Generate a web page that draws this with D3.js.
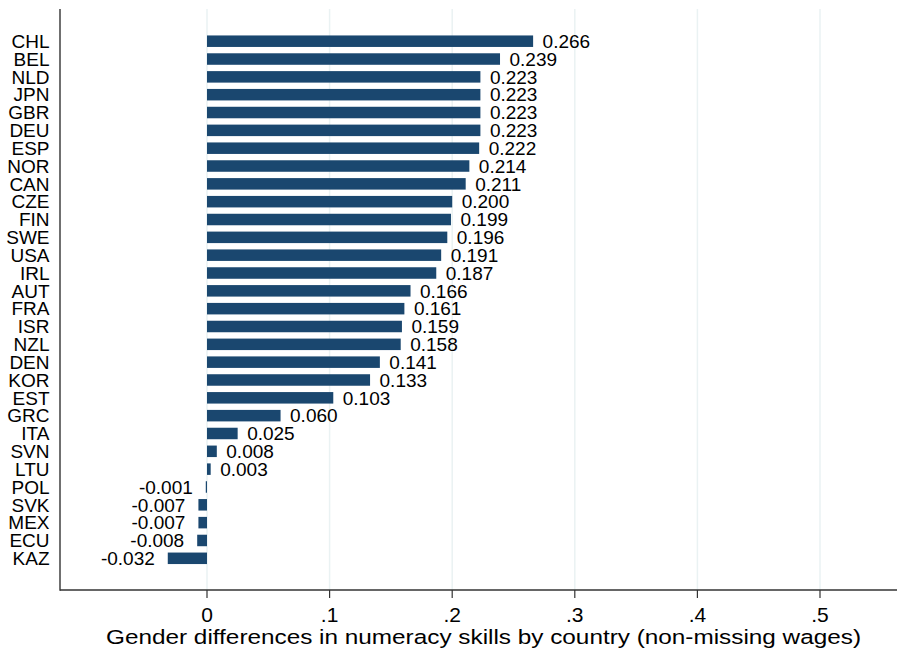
<!DOCTYPE html>
<html><head><meta charset="utf-8">
<script src="https://cdn.jsdelivr.net/npm/d3@7"></script>
<style>body{margin:0;background:#fff}svg{display:block}text{font-family:"Liberation Sans",Arial,sans-serif;fill:#000}</style>
</head><body>
<script>
const countries = ["CHL","BEL","NLD","JPN","GBR","DEU","ESP","NOR","CAN","CZE","FIN","SWE","USA","IRL","AUT","FRA","ISR","NZL","DEN","KOR","EST","GRC","ITA","SVN","LTU","POL","SVK","MEX","ECU","KAZ"];
const values = [0.266,0.239,0.223,0.223,0.223,0.223,0.222,0.214,0.211,0.200,0.199,0.196,0.191,0.187,0.166,0.161,0.159,0.158,0.141,0.133,0.103,0.060,0.025,0.008,0.003,-0.001,-0.007,-0.007,-0.008,-0.032];
const xTicks = [0,0.1,0.2,0.3,0.4,0.5];
const xTickLabels = ["0",".1",".2",".3",".4",".5"];
const xTitle = "Gender differences in numeracy skills by country (non-missing wages)";

(function(){
const W=897,H=657;
const svg=d3.select("body").append("svg").attr("width",W).attr("height",H);
const pL=60, pR=897, pT=9, pB=590;
const x=d3.scaleLinear().domain([0,0.5]).range([207,820]);
const y=d3.scalePoint().domain(countries).range([41.2,558.3]);
const bh=11.5;

svg.append("g").selectAll("line").data(xTicks).join("line")
  .attr("x1",d=>x(d)).attr("x2",d=>x(d)).attr("y1",pT).attr("y2",pB)
  .attr("stroke","#eaf2f3").attr("stroke-width",1.5);

svg.append("g").selectAll("rect").data(values).join("rect")
  .attr("x",d=>Math.min(x(0),x(d))).attr("width",d=>Math.abs(x(d)-x(0)))
  .attr("y",(d,i)=>y(countries[i])-bh/2).attr("height",bh)
  .attr("fill","#1a476f");

svg.append("g").selectAll("text").data(values).join("text")
  .attr("x",d=>d>=0?x(d)+9.5:x(d)-13)
  .attr("y",(d,i)=>y(countries[i])+6.8)
  .attr("text-anchor",d=>d>=0?"start":"end")
  .attr("font-size",19)
  .text(d=>d.toFixed(3));

svg.append("g").selectAll("text").data(countries).join("text")
  .attr("x",49.5).attr("y",d=>y(d)+6.8).attr("text-anchor","end")
  .attr("font-size",19).text(d=>d);

svg.append("line").attr("x1",pL).attr("x2",pL).attr("y1",pT).attr("y2",pB+0.7).attr("stroke","#333").attr("stroke-width",1.4);
svg.append("line").attr("x1",pL).attr("x2",pR).attr("y1",pB).attr("y2",pB).attr("stroke","#333").attr("stroke-width",1.4);

const tg=svg.append("g").selectAll("g").data(xTicks).join("g");
tg.append("line").attr("x1",d=>x(d)).attr("x2",d=>x(d)).attr("y1",pB).attr("y2",pB+8).attr("stroke","#333").attr("stroke-width",1.2);
tg.append("text").attr("x",d=>x(d)).attr("y",621.5).attr("text-anchor","middle").attr("font-size",21).text((d,i)=>xTickLabels[i]);

svg.append("text").attr("x",483.5).attr("y",644).attr("text-anchor","middle").attr("font-size",20.5)
  .attr("textLength",755).attr("lengthAdjust","spacingAndGlyphs").text(xTitle);
})();
</script>
</body></html>
